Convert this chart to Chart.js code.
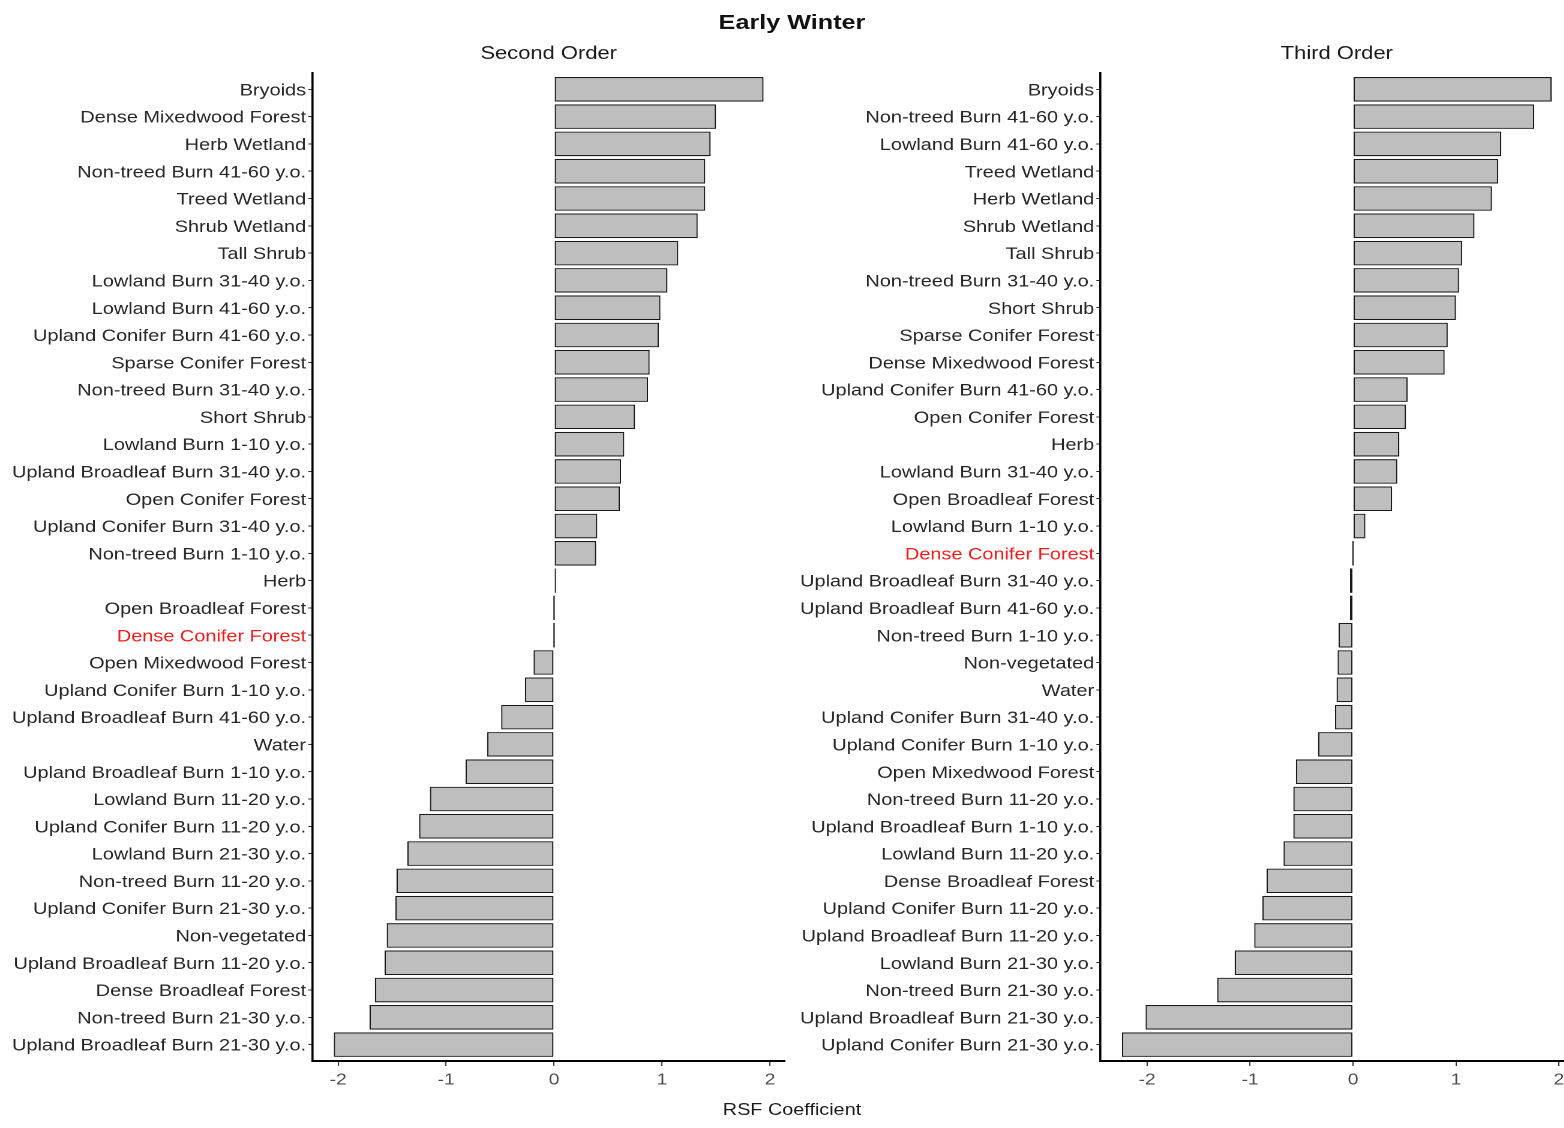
<!DOCTYPE html>
<html>
<head>
<meta charset="utf-8">
<title>Early Winter – RSF Coefficients</title>
<script src="https://cdn.jsdelivr.net/npm/chart.js@4/dist/chart.umd.min.js"></script>
<style>
  html, body { margin: 0; padding: 0; background: #ffffff; overflow: hidden; }
  /* the figure is laid out in a narrower frame and widened horizontally */
  #figure {
    position: relative; width: 1320px; height: 1128px;
    transform: scaleX(1.2); transform-origin: 0 0;
    font-family: 'Liberation Sans', Arial, Helvetica, sans-serif;
  }
  #figure canvas { position: absolute; top: 0; }
  #mainTitle {
    position: absolute; left: 510px; width: 300px; top: 10px;
    text-align: center; font-weight: bold; font-size: 21px; line-height: 24px; color: #111;
  }
  #xTitle {
    position: absolute; left: 510px; width: 300px; top: 1100px;
    text-align: center; font-size: 16.5px; line-height: 18px; color: #1a1a1a;
  }
</style>
</head>
<body>
<div id="figure">
  <div id="mainTitle">Early Winter</div>
  <canvas id="secondOrder" width="660" height="1128" style="left:0px"></canvas>
  <canvas id="thirdOrder" width="655" height="1128" style="left:660px"></canvas>
  <div id="xTitle">RSF Coefficient</div>
</div>
<script>
// ---- Second order model: land-cover classes and coefficients (top to bottom)
const secondLabels = [
  'Bryoids', 'Dense Mixedwood Forest', 'Herb Wetland', 'Non-treed Burn 41-60 y.o.',
  'Treed Wetland', 'Shrub Wetland', 'Tall Shrub', 'Lowland Burn 31-40 y.o.',
  'Lowland Burn 41-60 y.o.', 'Upland Conifer Burn 41-60 y.o.', 'Sparse Conifer Forest',
  'Non-treed Burn 31-40 y.o.', 'Short Shrub', 'Lowland Burn 1-10 y.o.',
  'Upland Broadleaf Burn 31-40 y.o.', 'Open Conifer Forest', 'Upland Conifer Burn 31-40 y.o.',
  'Non-treed Burn 1-10 y.o.', 'Herb', 'Open Broadleaf Forest', 'Dense Conifer Forest',
  'Open Mixedwood Forest', 'Upland Conifer Burn 1-10 y.o.', 'Upland Broadleaf Burn 41-60 y.o.',
  'Water', 'Upland Broadleaf Burn 1-10 y.o.', 'Lowland Burn 11-20 y.o.',
  'Upland Conifer Burn 11-20 y.o.', 'Lowland Burn 21-30 y.o.', 'Non-treed Burn 11-20 y.o.',
  'Upland Conifer Burn 21-30 y.o.', 'Non-vegetated', 'Upland Broadleaf Burn 11-20 y.o.',
  'Dense Broadleaf Forest', 'Non-treed Burn 21-30 y.o.', 'Upland Broadleaf Burn 21-30 y.o.'
];
const secondValues = [
  1.94, 1.50, 1.45, 1.40,
  1.40, 1.33, 1.15, 1.05,
  0.985, 0.97, 0.885,
  0.87, 0.75, 0.65,
  0.62, 0.61, 0.40,
  0.39, 0.018, 0, 0,
  -0.19, -0.27, -0.49,
  -0.62, -0.82, -1.15,
  -1.25, -1.36, -1.46,
  -1.47, -1.55, -1.57,
  -1.66, -1.71, -2.04
];

// ---- Third order model
const thirdLabels = [
  'Bryoids', 'Non-treed Burn 41-60 y.o.', 'Lowland Burn 41-60 y.o.', 'Treed Wetland',
  'Herb Wetland', 'Shrub Wetland', 'Tall Shrub', 'Non-treed Burn 31-40 y.o.', 'Short Shrub',
  'Sparse Conifer Forest', 'Dense Mixedwood Forest', 'Upland Conifer Burn 41-60 y.o.',
  'Open Conifer Forest', 'Herb', 'Lowland Burn 31-40 y.o.', 'Open Broadleaf Forest',
  'Lowland Burn 1-10 y.o.', 'Dense Conifer Forest', 'Upland Broadleaf Burn 31-40 y.o.',
  'Upland Broadleaf Burn 41-60 y.o.', 'Non-treed Burn 1-10 y.o.', 'Non-vegetated', 'Water',
  'Upland Conifer Burn 31-40 y.o.', 'Upland Conifer Burn 1-10 y.o.', 'Open Mixedwood Forest',
  'Non-treed Burn 11-20 y.o.', 'Upland Broadleaf Burn 1-10 y.o.', 'Lowland Burn 11-20 y.o.',
  'Dense Broadleaf Forest', 'Upland Conifer Burn 11-20 y.o.', 'Upland Broadleaf Burn 11-20 y.o.',
  'Lowland Burn 21-30 y.o.', 'Non-treed Burn 21-30 y.o.', 'Upland Broadleaf Burn 21-30 y.o.',
  'Upland Conifer Burn 21-30 y.o.'
];
const thirdValues = [
  1.93, 1.76, 1.44, 1.41,
  1.35, 1.18, 1.06, 1.03, 1.00,
  0.92, 0.89, 0.53,
  0.515, 0.45, 0.43, 0.38,
  0.12, 0, -0.03,
  -0.03, -0.14, -0.15, -0.16,
  -0.175, -0.34, -0.555,
  -0.58, -0.58, -0.675,
  -0.84, -0.88, -0.96,
  -1.15, -1.32, -2.015,
  -2.245
];

// x-axis tick values shared by both panels
const xTickValues = [-2, -1, 0, 1, 2];
// reference class, highlighted on the category axis
const referenceClass = 'Dense Conifer Forest';

const FONT = "'Liberation Sans', Arial, Helvetica, sans-serif";

// data range padded by 5% on each side
function paddedRange(values) {
  const lo = Math.min(...values, 0), hi = Math.max(...values, 0);
  const pad = (hi - lo) * 0.05;
  return [lo - pad, hi + pad];
}

function drawPanel(canvasId, title, labels, values, yAxisWidth, rightPad) {
  const [xMin, xMax] = paddedRange(values);
  return new Chart(document.getElementById(canvasId), {
    type: 'bar',
    data: {
      datasets: [{
        data: values.map((v, i) => ({ x: v, y: i })),
        backgroundColor: '#bebebe',
        borderColor: '#1a1a1a',
        borderWidth: 1.15,
        borderSkipped: false,
        categoryPercentage: 0.9,
        barPercentage: 1.0,
        minBarLength: 1.3
      }]
    },
    options: {
      indexAxis: 'y',
      responsive: false,
      animation: false,
      devicePixelRatio: 2,
      layout: { padding: { left: 0, right: rightPad, top: 0, bottom: 0 } },
      plugins: {
        legend: { display: false },
        tooltip: { enabled: false },
        title: {
          display: true,
          text: title,
          fullSize: false,
          color: '#1a1a1a',
          font: { family: FONT, size: 18.3, weight: 'normal', lineHeight: 1.2 },
          padding: { top: 43, bottom: 8 }
        }
      },
      scales: {
        x: {
          type: 'linear',
          position: 'bottom',
          offset: false,
          min: xMin,
          max: xMax,
          afterBuildTicks: (s) => { s.ticks = xTickValues.map(v => ({ value: v })); },
          afterFit: (s) => { s.height = 67; },
          border: { display: true, color: '#000000', width: 2 },
          grid: { display: true, offset: false, drawOnChartArea: false, drawTicks: true,
                  tickLength: 5, tickColor: '#333333', tickWidth: 1 },
          ticks: { color: '#4d4d4d', font: { family: FONT, size: 16 }, padding: 4.5,
                   maxRotation: 0, autoSkip: false }
        },
        y: {
          type: 'linear',
          position: 'left',
          reverse: true,
          offset: false,
          min: -0.6,
          max: labels.length - 0.4,
          afterBuildTicks: (s) => { s.ticks = labels.map((_, i) => ({ value: i })); },
          afterFit: (s) => { s.width = yAxisWidth; },
          border: { display: true, color: '#000000', width: 1.8 },
          grid: { display: true, offset: false, drawOnChartArea: false, drawTicks: true,
                  tickLength: 3.4, tickColor: '#333333', tickWidth: 1 },
          ticks: {
            autoSkip: false,
            padding: 1.8,
            labelOffset: 1.5,
            font: { family: FONT, size: 16.6 },
            color: (ctx) => labels[ctx.tick.value] === referenceClass ? '#ee1c1c' : '#262626',
            callback: (v) => labels[v]
          }
        }
      }
    }
  });
}

drawPanel('secondOrder', 'Second Order', secondLabels, secondValues, 260.25, 5.8);
drawPanel('thirdOrder', 'Third Order', thirdLabels, thirdValues, 257, 4);
</script>
</body>
</html>
